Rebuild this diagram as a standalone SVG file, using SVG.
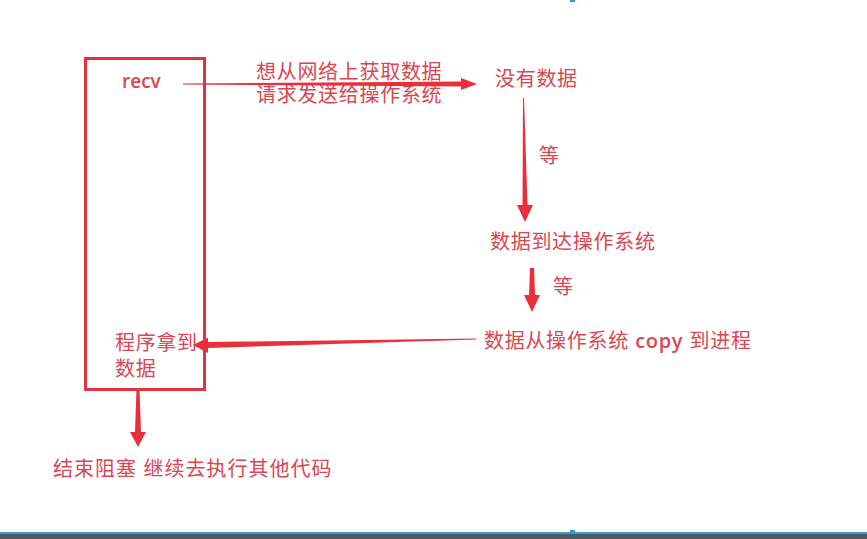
<svg xmlns="http://www.w3.org/2000/svg" width="867" height="539" viewBox="0 0 867 539">
<style>
.t{font-family:"Liberation Sans","Noto Sans CJK SC",sans-serif;font-size:20px;letter-spacing:0.7px;fill:#db4650}
.r{font-family:"Open Sans","Noto Sans CJK SC",sans-serif;font-size:19px;font-weight:600;fill:#db4650}
.box{fill:none;stroke:#e0353f;stroke-width:3}
.a{fill:#ea2f3a}
</style>
<rect width="867" height="539" fill="#ffffff"/>
<g id="frame">
<rect x="0" y="532" width="867" height="2" fill="#3a9fd0"/>
<rect x="0" y="534" width="867" height="5" fill="#4d5964"/>
<rect x="570" y="0" width="5" height="2" fill="#2aa0d0"/>
<rect x="570" y="530" width="5" height="3" fill="#2aa0d0"/>
</g>
<g id="node-recv">
<rect class="box" x="85.5" y="58.5" width="119" height="331"/>
<text class="r" x="122" y="88">recv</text>
<text class="t"><tspan x="115" y="350">程序拿到</tspan><tspan x="115" y="376">数据</tspan></text>
</g>
<g id="node-request">
<text class="t"><tspan x="256" y="79">想从网络上获取数据</tspan><tspan x="256" y="102">请求发送给操作系统</tspan></text>
</g>
<g id="node-nodata">
<text class="t" x="495" y="86">没有数据</text>
</g>
<g id="label-wait1"><text class="t" x="539" y="163">等</text></g>
<g id="node-arrive">
<text class="t" x="490" y="249">数据到达操作系统</text>
</g>
<g id="label-wait2"><text class="t" x="553" y="294">等</text></g>
<g id="node-copy">
<text class="t" x="484" y="348">数据从操作系统 <tspan font-family="Open Sans" font-weight="600" font-size="20px">copy</tspan> 到进程</text>
</g>
<g id="node-end">
<text class="t" x="53" y="476" style="letter-spacing:1px">结束阻塞 继续去执行其他代码</text>
</g>
<g id="connectors">
<polygon class="a" points="183,83.5 461,81.5 461,78 477,84 461,90 461,86.5 183,84.5"/>
<polygon class="a" points="523,98 524,98 527.5,205 533,205 525,222 517,205 522.5,205"/>
<polygon class="a" points="530,268 534,268 535,295 540,295 532,312 524,295 529,295"/>
<polygon class="a" points="476,338.5 476,339.5 208,348 208,353 193,345 208,337.5 208,342"/>
<polygon class="a" points="136.5,389 139.5,389 141,432 146,432 138,447 130,432 135,432"/>
</g>
</svg>
